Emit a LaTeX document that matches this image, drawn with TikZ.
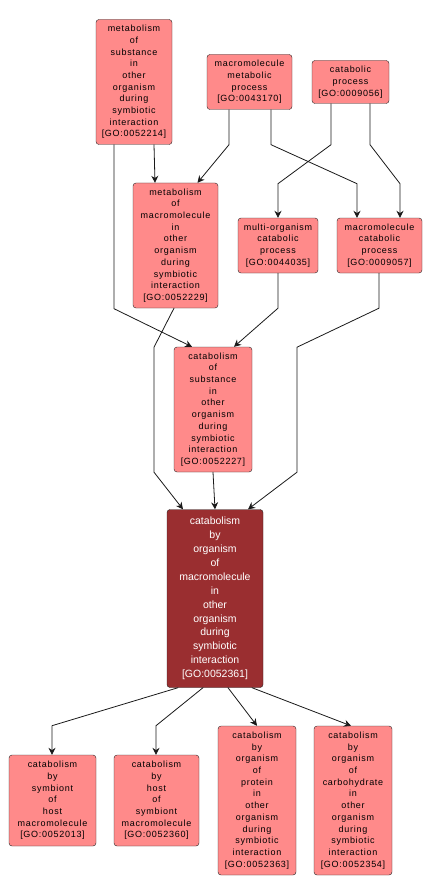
\documentclass[tikz,border=0pt]{standalone}
\usepackage{fontspec}
\setmainfont{Liberation Sans}
\newfontfamily\gofont[LetterSpace=8]{Liberation Sans}
\usepackage{tikz}
\usetikzlibrary{arrows.meta}
\definecolor{termfill}{RGB}{255,138,138}
\definecolor{mainfill}{RGB}{154,46,48}

\begin{document}
\begin{tikzpicture}[x=1pt, y=-1pt, line cap=round, line join=round,
	term/.style={draw=black!85, fill=termfill, rounded corners=3pt, inner sep=0pt,
		align=center, font=\gofont\fontsize{9}{11.7}\selectfont},
	edge/.style={draw=black!90, line width=0.8pt, -{Stealth[length=7pt, width=7pt]}}]
	\useasboundingbox (0,0) rectangle (432,896);

	% Верхний ряд
	\node[term, minimum width=76pt, minimum height=125pt] (msub) at (134,82)
		{metabolism\\of\\substance\\in\\other\\organism\\during\\symbiotic\\interaction\\{[GO:0052214]}};
	\node[term, minimum width=85pt, minimum height=55pt] (mmet) at (249.5,82)
		{macromolecule\\metabolic\\process\\{[GO:0043170]}};
	\node[term, minimum width=77pt, minimum height=43pt] (cat) at (350.5,82)
		{catabolic\\process\\{[GO:0009056]}};

	% Второй ряд
	\node[term, minimum width=85pt, minimum height=125pt] (mmac) at (175.5,245.5)
		{metabolism\\of\\macromolecule\\in\\other\\organism\\during\\symbiotic\\interaction\\{[GO:0052229]}};
	\node[term, minimum width=80pt, minimum height=55pt] (mocat) at (278,245.5)
		{multi-organism\\catabolic\\process\\{[GO:0044035]}};
	\node[term, minimum width=85pt, minimum height=55pt] (mcat) at (379.5,245.5)
		{macromolecule\\catabolic\\process\\{[GO:0009057]}};

	% Третий ряд
	\node[term, minimum width=78pt, minimum height=125pt] (csub) at (213,409.5)
		{catabolism\\of\\substance\\in\\other\\organism\\during\\symbiotic\\interaction\\{[GO:0052227]}};

	% Выделенный термин
	\node[draw=black!85, fill=mainfill, rounded corners=3pt, inner sep=0pt, align=center,
		text=white, font=\fontsize{10.5}{13.9}\selectfont,
		minimum width=96pt, minimum height=178pt] (main) at (215,598.5)
		{catabolism\\by\\organism\\of\\macromolecule\\in\\other\\organism\\during\\symbiotic\\interaction\\{[GO:0052361]}};

	% Нижний ряд
	\node[term, minimum width=87pt, minimum height=91pt] (symb) at (52.5,800.5)
		{catabolism\\by\\symbiont\\of\\host\\macromolecule\\{[GO:0052013]}};
	\node[term, minimum width=85pt, minimum height=91pt] (host) at (156.5,800.5)
		{catabolism\\by\\host\\of\\symbiont\\macromolecule\\{[GO:0052360]}};
	\node[term, minimum width=78pt, minimum height=149pt] (prot) at (257,800.5)
		{catabolism\\by\\organism\\of\\protein\\in\\other\\organism\\during\\symbiotic\\interaction\\{[GO:0052363]}};
	\node[term, minimum width=78pt, minimum height=149pt] (carb) at (353,800.5)
		{catabolism\\by\\organism\\of\\carbohydrate\\in\\other\\organism\\during\\symbiotic\\interaction\\{[GO:0052354]}};

	% Связи сверху
	\draw[edge] ([xshift=20pt]msub.south) -- ([xshift=-20.5pt]mmac.north);
	\draw[edge] ([xshift=-20pt]msub.south) -- ++(0,164) -- ([xshift=-21pt]csub.north);
	\draw[edge] ([xshift=-20.5pt]mmet.south) -- ++(0,35) -- ([xshift=22pt]mmac.north);
	\draw[edge] ([xshift=21.5pt]mmet.south) -- ++(0,35) -- ++(86,39) -- ([xshift=-22.5pt]mcat.north);
	\draw[edge] ([xshift=-19.5pt]cat.south) -- ++(0,41) -- ++(-53,39) -- (mocat.north);
	\draw[edge] ([xshift=19.5pt]cat.south) -- ++(0,41) -- ++(30,39) -- ([xshift=20.5pt]mcat.north);

	% Связи к выделенному термину
	\draw[edge] ([xshift=-1.5pt]mmac.south) -- ++(-20,39) -- ++(0,125) -- ([xshift=-32pt]main.north);
	\draw[edge] (mocat.south) -- ++(0,35) -- ([xshift=21pt]csub.north);
	\draw[edge] ([xshift=-0.5pt]mcat.south) -- ++(0,35) -- ++(-82,39) -- ++(0,125) -- ([xshift=33pt]main.north);
	\draw[edge] (csub.south) -- (main.north);

	% Связи вниз
	\draw[edge] ([xshift=-37pt]main.south) -- ++(-126,38) -- ([xshift=-0.5pt]symb.north);
	\draw[edge] ([xshift=-12pt]main.south) -- ++(-47,38) -- ([xshift=-0.5pt]host.north);
	\draw[edge] ([xshift=13pt]main.south) -- (prot.north);
	\draw[edge] ([xshift=37pt]main.south) -- ([xshift=-2pt]carb.north);
\end{tikzpicture}
\end{document}
